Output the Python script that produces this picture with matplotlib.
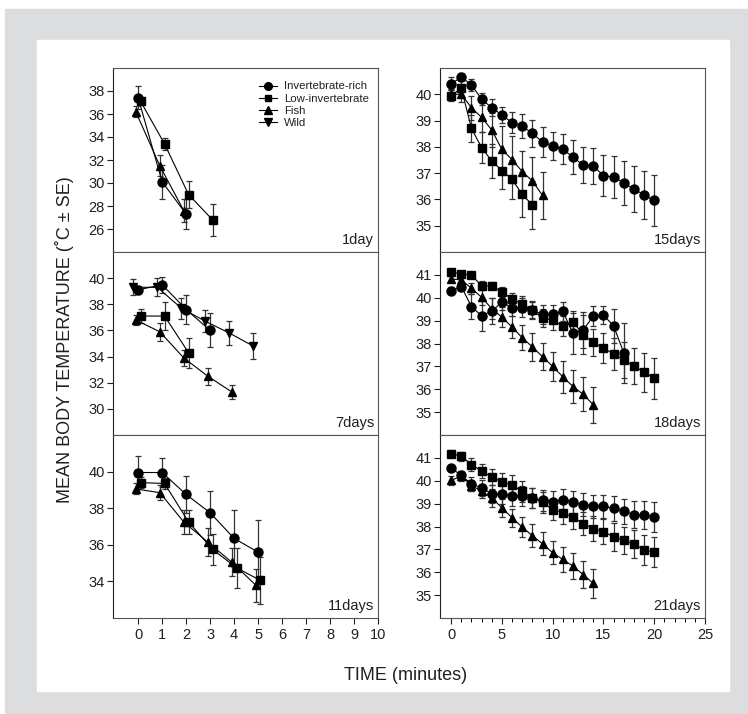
import matplotlib
matplotlib.use("Agg")
import matplotlib.pyplot as plt
from matplotlib.patches import Rectangle

plt.rcParams['font.family'] = ['Liberation Sans', 'DejaVu Sans']

W, H = 748, 714
INK = '#231f20'

# ---- data: (time, mean, SE) per group, per panel ----
# 1 day
d1_ir_t = [0, 1, 2]
d1_ir = [37.4, 30.1, 27.3]
d1_ir_se = [1.0, 1.45, 1.3]
d1_li_t = [0.1, 1.1, 2.1, 3.1]
d1_li = [37.1, 33.4, 29.0, 26.8]
d1_li_se = [0.35, 0.55, 1.2, 1.4]
d1_fi_t = [-0.1, 0.9, 1.9]
d1_fi = [36.2, 31.5, 27.6]
d1_fi_se = [0.5, 0.9, 1.0]

# 7 days
d7_ir_t = [0, 1, 2, 3]
d7_ir = [39.1, 39.5, 37.6, 36.0]
d7_ir_se = [0.3, 0.6, 1.1, 1.3]
d7_li_t = [0.1, 1.1, 2.1]
d7_li = [37.1, 37.1, 34.3]
d7_li_se = [0.55, 1.1, 1.15]
d7_fi_t = [-0.1, 0.9, 1.9, 2.9, 3.9]
d7_fi = [36.8, 35.9, 33.9, 32.5, 31.3]
d7_fi_se = [0.4, 0.7, 0.6, 0.65, 0.55]
d7_wi_t = [-0.2, 0.8, 1.8, 2.8, 3.8, 4.8]
d7_wi = [39.3, 39.3, 37.7, 36.7, 35.8, 34.8]
d7_wi_se = [0.6, 0.7, 0.8, 0.85, 0.95, 1.0]

# 11 days
d11_ir_t = [0, 1, 2, 3, 4, 5]
d11_ir = [39.95, 39.95, 38.75, 37.75, 36.35, 35.6]
d11_ir_se = [0.9, 0.8, 1.0, 1.2, 1.55, 1.75]
d11_li_t = [0.1, 1.1, 2.1, 3.1, 4.1, 5.1]
d11_li = [39.4, 39.35, 37.25, 35.75, 34.75, 34.05]
d11_li_se = [0.3, 0.3, 0.65, 0.85, 1.1, 1.3]
d11_fi_t = [-0.1, 0.9, 1.9, 2.9, 3.9, 4.9]
d11_fi = [39.05, 38.85, 37.25, 36.15, 35.05, 33.8]
d11_fi_se = [0.3, 0.4, 0.65, 0.75, 0.75, 0.9]

# 15 days
d15_ir_t = list(range(21))
d15_ir = [40.40, 40.65, 40.36, 39.81, 39.49, 39.21, 38.92, 38.79, 38.51, 38.19,
          38.04, 37.91, 37.61, 37.30, 37.26, 36.91, 36.85, 36.63, 36.40, 36.17,
          35.96]
d15_ir_se = [0.25, 0.15, 0.23, 0.23, 0.32, 0.32, 0.4, 0.45, 0.5, 0.57,
             0.54, 0.57, 0.64, 0.68, 0.68, 0.77, 0.8, 0.83, 0.89, 0.93, 0.96]
d15_li_t = list(range(9))
d15_li = [39.95, 40.23, 38.7, 37.97, 37.46, 37.1, 36.76, 36.19, 35.79]
d15_li_se = [0.2, 0.35, 0.5, 0.6, 0.65, 0.7, 0.75, 0.85, 0.92]
d15_fi_t = list(range(10))
d15_fi = [40.0, 40.0, 39.49, 39.12, 38.64, 37.9, 37.51, 37.06, 36.7, 36.15]
d15_fi_se = [0.2, 0.3, 0.45, 0.55, 0.65, 0.9, 0.9, 0.8, 0.9, 0.9]

# 18 days
d18_ir_t = list(range(18))
d18_ir = [40.3, 40.49, 39.61, 39.21, 39.42, 39.8, 39.57, 39.57, 39.46, 39.27,
          39.3, 39.4, 38.44, 38.59, 39.2, 39.24, 38.77, 37.59]
d18_ir_se = [0.15, 0.15, 0.55, 0.65, 0.55, 0.35, 0.35, 0.4, 0.4, 0.4,
             0.4, 0.4, 0.9, 0.8, 0.45, 0.4, 0.75, 1.3]
d18_li_t = list(range(21))
d18_li = [41.12, 41.05, 41.0, 40.52, 40.52, 40.25, 39.95, 39.72, 39.45, 39.12,
          39.02, 38.76, 38.95, 38.38, 38.05, 37.8, 37.55, 37.28, 37.02, 36.75,
          36.48]
d18_li_se = [0.1, 0.1, 0.1, 0.2, 0.15, 0.2, 0.25, 0.35, 0.35, 0.4,
             0.45, 0.45, 0.45, 0.85, 0.6, 0.65, 0.7, 0.8, 0.8, 0.85, 0.9]
d18_fi_t = list(range(15))
d18_fi = [40.82, 40.78, 40.41, 40.02, 39.52, 39.15, 38.72, 38.25, 37.85, 37.42,
          37.0, 36.54, 36.12, 35.78, 35.32]
d18_fi_se = [0.15, 0.2, 0.25, 0.35, 0.45, 0.45, 0.5, 0.55, 0.6, 0.6,
             0.65, 0.7, 0.7, 0.75, 0.8]

# 21 days
d21_ir_t = list(range(21))
d21_ir = [40.56, 40.23, 39.86, 39.69, 39.43, 39.4, 39.33, 39.33, 39.25, 39.14,
          39.09, 39.18, 39.06, 38.96, 38.89, 38.89, 38.79, 38.67, 38.52, 38.5,
          38.41]
d21_ir_se = [0.1, 0.2, 0.3, 0.35, 0.4, 0.4, 0.45, 0.45, 0.45, 0.45,
             0.45, 0.45, 0.5, 0.5, 0.5, 0.5, 0.55, 0.55, 0.6, 0.6, 0.65]
d21_li_t = list(range(21))
d21_li = [41.19, 41.07, 40.71, 40.42, 40.16, 39.95, 39.81, 39.54, 39.25, 39.06,
          38.74, 38.6, 38.41, 38.13, 37.9, 37.77, 37.55, 37.39, 37.24, 36.97,
          36.89]
d21_li_se = [0.15, 0.2, 0.3, 0.3, 0.35, 0.4, 0.45, 0.45, 0.45, 0.45,
             0.45, 0.5, 0.5, 0.5, 0.55, 0.55, 0.6, 0.6, 0.6, 0.65, 0.65]
d21_fi_t = list(range(15))
d21_fi = [40.02, 40.2, 39.79, 39.54, 39.25, 38.82, 38.38, 37.97, 37.6, 37.24,
          36.85, 36.56, 36.27, 35.9, 35.51]
d21_fi_se = [0.2, 0.2, 0.25, 0.3, 0.4, 0.4, 0.4, 0.45, 0.5, 0.5,
             0.5, 0.55, 0.55, 0.6, 0.63]

GROUPS = ['Invertebrate-rich', 'Low-invertebrate', 'Fish', 'Wild']
MARKERS = {'Invertebrate-rich': ('o', 6.5), 'Low-invertebrate': ('s', 5.5),
           'Fish': ('^', 6), 'Wild': ('v', 6)}

panels = [
    # (col, row, label, ylim, yticks, series)
    (0, 0, '1day', (24, 40), [26, 28, 30, 32, 34, 36, 38],
     [('Invertebrate-rich', d1_ir_t, d1_ir, d1_ir_se),
      ('Low-invertebrate', d1_li_t, d1_li, d1_li_se),
      ('Fish', d1_fi_t, d1_fi, d1_fi_se)]),
    (0, 1, '7days', (28, 42), [30, 32, 34, 36, 38, 40],
     [('Invertebrate-rich', d7_ir_t, d7_ir, d7_ir_se),
      ('Low-invertebrate', d7_li_t, d7_li, d7_li_se),
      ('Fish', d7_fi_t, d7_fi, d7_fi_se),
      ('Wild', d7_wi_t, d7_wi, d7_wi_se)]),
    (0, 2, '11days', (32, 42), [34, 36, 38, 40],
     [('Invertebrate-rich', d11_ir_t, d11_ir, d11_ir_se),
      ('Low-invertebrate', d11_li_t, d11_li, d11_li_se),
      ('Fish', d11_fi_t, d11_fi, d11_fi_se)]),
    (1, 0, '15days', (34, 41), [35, 36, 37, 38, 39, 40],
     [('Invertebrate-rich', d15_ir_t, d15_ir, d15_ir_se),
      ('Low-invertebrate', d15_li_t, d15_li, d15_li_se),
      ('Fish', d15_fi_t, d15_fi, d15_fi_se)]),
    (1, 1, '18days', (34, 42), [35, 36, 37, 38, 39, 40, 41],
     [('Invertebrate-rich', d18_ir_t, d18_ir, d18_ir_se),
      ('Low-invertebrate', d18_li_t, d18_li, d18_li_se),
      ('Fish', d18_fi_t, d18_fi, d18_fi_se)]),
    (1, 2, '21days', (34, 42), [35, 36, 37, 38, 39, 40, 41],
     [('Invertebrate-rich', d21_ir_t, d21_ir, d21_ir_se),
      ('Low-invertebrate', d21_li_t, d21_li, d21_li_se),
      ('Fish', d21_fi_t, d21_fi, d21_fi_se)]),
]

COL_X = [(113, 378), (440, 705)]
ROW_Y = [(68, 252), (252, 435), (435, 618)]
XLIMS = [(-1.05, 10), (-1.1, 25)]

fig = plt.figure(figsize=(W / 100, H / 100), dpi=100, facecolor='white')
fig.patches.append(Rectangle((5 / W, 0), 1 - 5 / W, 1 - 9 / H,
                             transform=fig.transFigure, color='#dcdddf',
                             zorder=-2))
fig.patches.append(Rectangle((37 / W, 1 - 691 / H), (729 - 37) / W,
                             (691 - 40) / H, transform=fig.transFigure,
                             color='white', zorder=-1))

axes = {}
for col, row, label, ylim, yticks, series in panels:
    x0, x1 = COL_X[col]
    y0, y1 = ROW_Y[row]
    ax = fig.add_axes([x0 / W, 1 - y1 / H, (x1 - x0) / W, (y1 - y0) / H])
    axes[(col, row)] = ax
    for name, t, m, se in series:
        mk, ms = MARKERS[name]
        ax.errorbar(t, m, yerr=se, fmt='-', marker=mk, ms=ms, color='black',
                    ecolor='#333333', elinewidth=0.9, capsize=2.2,
                    capthick=0.9, lw=0.8, label=name)
    ax.set_xlim(*XLIMS[col])
    ax.set_ylim(*ylim)
    ax.set_yticks(yticks)
    ax.tick_params(axis='y', direction='out', length=4, width=0.8,
                   labelsize=10.5, colors=INK, pad=2)
    for s in ax.spines.values():
        s.set_linewidth(0.8)
        s.set_color('#555555')
    ax.spines['left'].set_color('#222222')
    ax.text(0.985, 0.025, label, transform=ax.transAxes, ha='right',
            va='bottom', fontsize=10.5, color=INK)
    if row < 2:
        ax.set_xticks([])
    else:
        if col == 0:
            ax.set_xticks(range(0, 11))
        else:
            ax.set_xticks(range(0, 26, 5))
            ax.set_xticks(range(0, 26), minor=True)
            ax.tick_params(axis='x', which='minor', direction='out',
                           length=3, width=0.7)
        ax.tick_params(axis='x', which='major', direction='out', length=4,
                       width=0.8, labelsize=10.5, colors=INK, pad=3)

# legend with all four groups in the first panel
ax = axes[(0, 0)]
handles = []
for name in GROUPS:
    mk, ms = MARKERS[name]
    h, = ax.plot([], [], '-', marker=mk, ms=ms * 0.85, color='black', lw=0.8)
    handles.append(h)
ax.legend(handles, GROUPS, loc='upper right', bbox_to_anchor=(0.995, 0.97),
          frameon=False, fontsize=8.2, handlelength=1.6, handletextpad=0.6,
          labelspacing=0.2, borderpad=0.2, labelcolor=INK)

fig.text(65 / W, 1 - 340 / H, 'MEAN BODY TEMPERATURE (˚C ± SE)',
         rotation=90, ha='center', va='center', fontsize=13, color=INK)
fig.text(406 / W, 1 - 675 / H, 'TIME (minutes)', ha='center', va='center',
         fontsize=13, color=INK)

fig.savefig('out.png', dpi=100, facecolor='white')
